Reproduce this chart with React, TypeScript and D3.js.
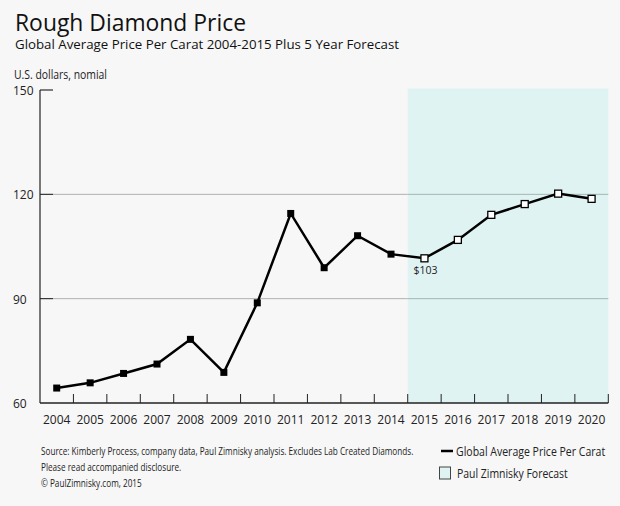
import React from "react";
import * as d3 from "d3";

const years = ["2004","2005","2006","2007","2008","2009","2010","2011","2012","2013","2014","2015","2016","2017","2018","2019","2020"];
const prices = [64.3, 65.8, 68.5, 71.2, 78.3, 68.8, 88.8, 114.5, 98.9, 108.1, 102.8, 101.6, 106.9, 114.1, 117.2, 120.2, 118.7];
const forecastStart = "2015";
const yTicks = [60, 90, 120, 150];
const annotationYear = "2015";
const annotationText = "$103";

const W = 620, H = 506;
const FONT = "'Open Sans', 'Noto Sans', sans-serif";

function FitText(props: { x: number; y: number; size: number; width: number; natural: number; children: string; fill?: string }) {
  const sx = props.width / props.natural;
  return (
    <g transform={`translate(${props.x},${props.y}) scale(${sx},1)`}>
      <text x={0} y={0} fontSize={props.size} fill={props.fill || "#222"}>{props.children}</text>
    </g>
  );
}

export default function App() {
  const x = d3.scaleBand<string>().domain(years).range([40, 608.3]).padding(0);
  const y = d3.scaleLinear().domain([60, 150]).range([403, 90]);
  const cx = (yr: string) => (x(yr) as number) + x.bandwidth() / 2;
  const pts = years.map((yr, i) => ({ yr, v: prices[i] }));
  const line = d3.line<{ yr: string; v: number }>().x(d => cx(d.yr)).y(d => y(d.v));
  const fIdx = years.indexOf(forecastStart);
  const shadeX0 = x(forecastStart) as number;
  const shadeX1 = 608.3;
  const boundaries = d3.range(1, years.length + 1).map(i => 40 + i * x.bandwidth());

  return (
    <svg width={W} height={H} style={{ position: "absolute", left: 0, top: 0 }} fontFamily={FONT}>
      <rect x={0} y={0} width={W} height={H} fill="#f7f7f7" />
      {/* forecast shading */}
      <rect x={shadeX0} y={88.5} width={shadeX1 - shadeX0} height={y(60) - 88.5} fill="#dff3f2" />
      {/* gridlines */}
      {yTicks.filter(t => t !== 60 && t !== 150).map(t => (
        <g key={t}>
          <line x1={40} x2={shadeX0} y1={y(t)} y2={y(t)} stroke="#b0b0b0" strokeWidth={1} />
          <line x1={shadeX0} x2={shadeX1} y1={y(t)} y2={y(t)} stroke="#a3b5b4" strokeWidth={1} />
          <line x1={40} x2={53} y1={y(t)} y2={y(t)} stroke="#222" strokeWidth={1} />
        </g>
      ))}
      <line x1={40} x2={53} y1={y(150)} y2={y(150)} stroke="#555" strokeWidth={1.5} />
      {/* axes */}
      <line x1={40} x2={40} y1={y(150)} y2={y(60)} stroke="#222" strokeWidth={1.2} />
      <line x1={40} x2={shadeX1} y1={y(60)} y2={y(60)} stroke="#222" strokeWidth={1.5} />
      {boundaries.map((bx, i) => (
        <line key={i} x1={bx} x2={bx} y1={y(60)} y2={y(60) - 9} stroke="#222" strokeWidth={1} />
      ))}
      {/* y tick labels */}
      {yTicks.map(t => (
        <text key={t} x={13} y={y(t) + 5} fontSize={12} fill="#222">{t}</text>
      ))}
      {/* x labels */}
      {years.map(yr => (
        <text key={yr} x={cx(yr)} y={424} fontSize={12} textAnchor="middle" fill="#222">{yr}</text>
      ))}
      {/* line */}
      <path d={line(pts) || ""} fill="none" stroke="#000" strokeWidth={2.5} strokeLinejoin="miter" />
      {pts.map((p, i) =>
        i < fIdx ? (
          <rect key={p.yr} x={cx(p.yr) - 3.5} y={y(p.v) - 3.5} width={7} height={7} fill="#000" />
        ) : (
          <rect key={p.yr} x={cx(p.yr) - 3.5} y={y(p.v) - 3.5} width={7} height={7} fill="#fff" stroke="#000" strokeWidth={1.3} />
        )
      )}
      <text x={cx(annotationYear) - 11} y={274} fontSize={10.5} fill="#222">{annotationText}</text>
      {/* titles */}
      <text x={15} y={30.5} fontSize={23} fill="#111" textLength={231} lengthAdjust="spacingAndGlyphs">Rough Diamond Price</text>
      <text x={15} y={49.3} fontSize={13.5} fill="#111" textLength={384} lengthAdjust="spacingAndGlyphs">Global Average Price Per Carat 2004-2015 Plus 5 Year Forecast</text>
      <text x={14} y={79} fontSize={12} fill="#222" textLength={93} lengthAdjust="spacingAndGlyphs">U.S. dollars, nomial</text>
      {/* footer */}
      <FitText x={41} y={455} size={10} width={373} natural={455}>Source: Kimberly Process, company data, Paul Zimnisky analysis.  Excludes Lab Created Diamonds.</FitText>
      <FitText x={41} y={471} size={10} width={139} natural={170}>Please read accompanied disclosure.</FitText>
      <FitText x={41} y={487} size={10} width={100} natural={122}>© PaulZimnisky.com, 2015</FitText>
      {/* legend */}
      <line x1={441} x2={453} y1={451} y2={451} stroke="#000" strokeWidth={2.5} />
      <FitText x={456} y={455.5} size={12.5} width={149} natural={177}>Global Average Price Per Carat</FitText>
      <rect x={439.5} y={467} width={11} height={12} fill="#dff3f2" stroke="#444" strokeWidth={1} />
      <FitText x={457} y={478} size={12.5} width={112} natural={134}>Paul Zimnisky Forecast</FitText>
    </svg>
  );
}
